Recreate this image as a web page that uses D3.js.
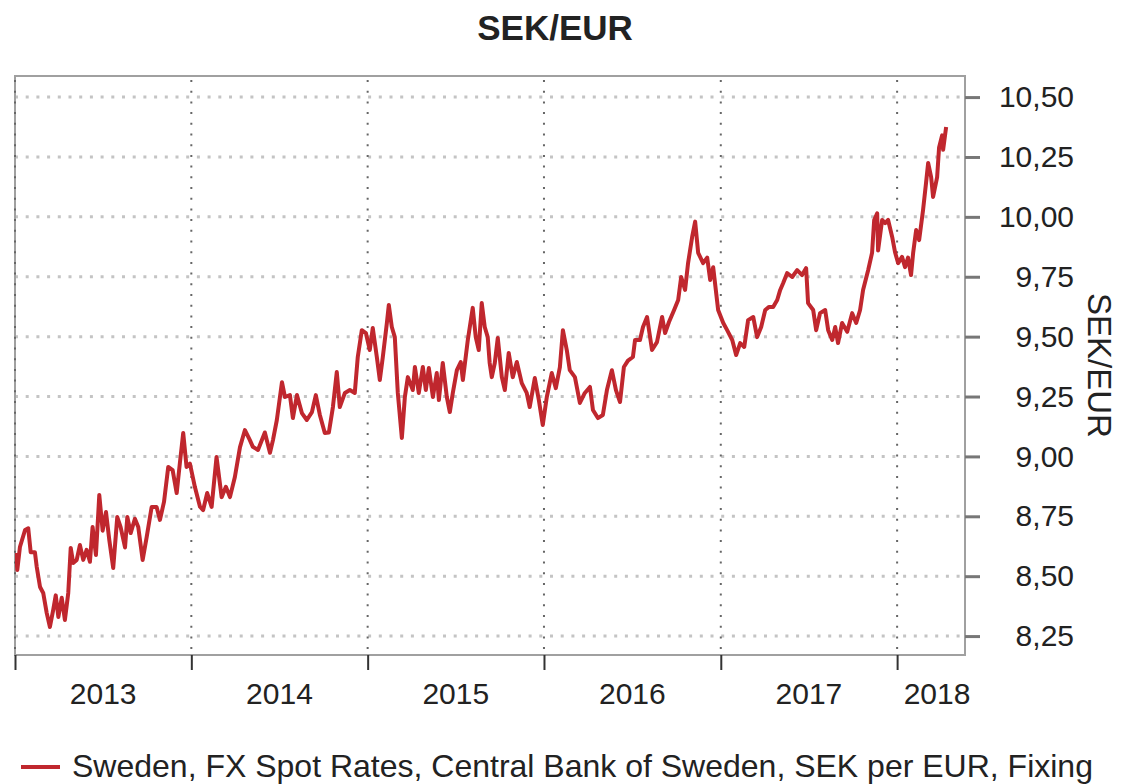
<!DOCTYPE html>
<html>
<head>
<meta charset="utf-8">
<title>SEK/EUR</title>
<script src="https://d3js.org/d3.v7.min.js"></script>
<style>
body { margin: 0; background: #fff; }
svg text { font-family: "Liberation Sans", Arial, Helvetica, sans-serif; fill: #222; }
.title { font-size: 35px; font-weight: bold; }
.tick-label { font-size: 30px; }
.axis-title { font-size: 33px; }
.legend-text { font-size: 32px; }
</style>
</head>
<body>
<svg id="chart" width="1124" height="784"></svg>
<script>

// decimal years
var times = [
  2013.006, 2013.013, 2013.028, 2013.057, 2013.075, 2013.089, 2013.113, 2013.123, 2013.142, 2013.160,
  2013.180, 2013.198, 2013.217, 2013.231, 2013.246, 2013.265, 2013.283, 2013.302, 2013.316, 2013.330,
  2013.350, 2013.368, 2013.387, 2013.406, 2013.425, 2013.440, 2013.459, 2013.478, 2013.497, 2013.516,
  2013.535, 2013.557, 2013.580, 2013.599, 2013.624, 2013.637, 2013.656, 2013.680, 2013.699, 2013.724,
  2013.747, 2013.775, 2013.803, 2013.822, 2013.845, 2013.869, 2013.894, 2013.917, 2013.935, 2013.954,
  2013.973, 2013.992, 2014.020, 2014.049, 2014.067, 2014.090, 2014.115, 2014.143, 2014.172, 2014.196,
  2014.219, 2014.247, 2014.276, 2014.304, 2014.332, 2014.349, 2014.378, 2014.417, 2014.446, 2014.463,
  2014.485, 2014.514, 2014.531, 2014.559, 2014.576, 2014.599, 2014.627, 2014.655, 2014.684, 2014.706,
  2014.729, 2014.757, 2014.780, 2014.803, 2014.825, 2014.842, 2014.871, 2014.899, 2014.927, 2014.944,
  2014.967, 2014.990, 2015.012, 2015.029, 2015.052, 2015.069, 2015.086, 2015.109, 2015.120, 2015.137,
  2015.154, 2015.171, 2015.194, 2015.211, 2015.228, 2015.256, 2015.268, 2015.290, 2015.313, 2015.330,
  2015.347, 2015.370, 2015.392, 2015.404, 2015.426, 2015.449, 2015.466, 2015.483, 2015.506, 2015.528,
  2015.540, 2015.568, 2015.596, 2015.613, 2015.630, 2015.647, 2015.664, 2015.681, 2015.692, 2015.704,
  2015.721, 2015.738, 2015.761, 2015.778, 2015.800, 2015.823, 2015.846, 2015.874, 2015.902, 2015.919,
  2015.948, 2015.971, 2015.993, 2016.016, 2016.044, 2016.067, 2016.090, 2016.107, 2016.129, 2016.146,
  2016.175, 2016.203, 2016.231, 2016.260, 2016.277, 2016.305, 2016.333, 2016.356, 2016.384, 2016.407,
  2016.430, 2016.452, 2016.475, 2016.503, 2016.515, 2016.543, 2016.560, 2016.583, 2016.611, 2016.639,
  2016.668, 2016.685, 2016.707, 2016.736, 2016.759, 2016.776, 2016.798, 2016.815, 2016.838, 2016.855,
  2016.872, 2016.900, 2016.923, 2016.940, 2016.957, 2016.985, 2017.014, 2017.036, 2017.065, 2017.087,
  2017.110, 2017.133, 2017.155, 2017.184, 2017.206, 2017.229, 2017.252, 2017.274, 2017.297, 2017.320,
  2017.337, 2017.354, 2017.376, 2017.405, 2017.433, 2017.461, 2017.484, 2017.495, 2017.524, 2017.541,
  2017.563, 2017.592, 2017.609, 2017.632, 2017.649, 2017.665, 2017.688, 2017.717, 2017.745, 2017.768,
  2017.790, 2017.807, 2017.836, 2017.858, 2017.870, 2017.887, 2017.892, 2017.915, 2017.932, 2017.949,
  2017.972, 2017.989, 2018.006, 2018.028, 2018.045, 2018.062, 2018.079, 2018.091, 2018.108, 2018.125,
  2018.147, 2018.164, 2018.176, 2018.193, 2018.204, 2018.227, 2018.238, 2018.255, 2018.261, 2018.278
];

// SEK per EUR
var rates = [
  8.597, 8.526, 8.622, 8.693, 8.700, 8.600, 8.600, 8.540, 8.455, 8.430,
  8.346, 8.288, 8.360, 8.420, 8.330, 8.410, 8.317, 8.430, 8.618, 8.555,
  8.568, 8.630, 8.568, 8.610, 8.560, 8.705, 8.588, 8.839, 8.690, 8.768,
  8.650, 8.534, 8.747, 8.705, 8.620, 8.747, 8.680, 8.740, 8.705, 8.568,
  8.664, 8.789, 8.789, 8.735, 8.810, 8.956, 8.943, 8.847, 8.972, 9.098,
  8.956, 8.970, 8.873, 8.790, 8.776, 8.847, 8.789, 8.998, 8.830, 8.873,
  8.830, 8.914, 9.039, 9.110, 9.068, 9.040, 9.027, 9.100, 9.015, 9.068,
  9.152, 9.310, 9.248, 9.256, 9.160, 9.256, 9.181, 9.152, 9.185, 9.256,
  9.173, 9.098, 9.100, 9.206, 9.352, 9.206, 9.265, 9.277, 9.265, 9.415,
  9.527, 9.515, 9.444, 9.536, 9.415, 9.319, 9.415, 9.557, 9.632, 9.540,
  9.498, 9.265, 9.077, 9.248, 9.331, 9.277, 9.373, 9.265, 9.373, 9.277,
  9.369, 9.248, 9.348, 9.235, 9.390, 9.248, 9.185, 9.265, 9.360, 9.394,
  9.319, 9.486, 9.620, 9.498, 9.444, 9.640, 9.540, 9.498, 9.390, 9.331,
  9.390, 9.494, 9.331, 9.277, 9.432, 9.331, 9.394, 9.306, 9.265, 9.206,
  9.327, 9.235, 9.131, 9.248, 9.348, 9.285, 9.373, 9.527, 9.444, 9.360,
  9.331, 9.223, 9.265, 9.290, 9.194, 9.160, 9.173, 9.277, 9.360, 9.277,
  9.227, 9.373, 9.400, 9.415, 9.486, 9.486, 9.540, 9.582, 9.444, 9.477,
  9.582, 9.515, 9.561, 9.611, 9.653, 9.749, 9.695, 9.807, 9.916, 9.980,
  9.850, 9.807, 9.830, 9.736, 9.790, 9.611, 9.557, 9.527, 9.486, 9.423,
  9.473, 9.457, 9.569, 9.582, 9.498, 9.540, 9.611, 9.624, 9.624, 9.653,
  9.695, 9.724, 9.765, 9.749, 9.778, 9.757, 9.786, 9.640, 9.611, 9.527,
  9.598, 9.611, 9.527, 9.486, 9.540, 9.473, 9.557, 9.520, 9.598, 9.557,
  9.611, 9.695, 9.778, 9.850, 9.987, 10.015, 9.860, 9.987, 9.974, 9.987,
  9.916, 9.850, 9.807, 9.833, 9.790, 9.830, 9.757, 9.850, 9.945, 9.903,
  10.028, 10.141, 10.225, 10.166, 10.083, 10.166, 10.290, 10.340, 10.280, 10.375
];

var yTicks = [8.25, 8.50, 8.75, 9.00, 9.25, 9.50, 9.75, 10.00, 10.25, 10.50];
var yearLabels = ["2013", "2014", "2015", "2016", "2017", "2018"];

var chartTitle = "SEK/EUR";
var axisTitle = "SEK/EUR";
var seriesName = "Sweden, FX Spot Rates, Central Bank of Sweden, SEK per EUR, Fixing";

function toDate(t) {
  var y = Math.floor(t);
  var a = Date.UTC(y, 0, 1), b = Date.UTC(y + 1, 0, 1);
  return new Date(a + (t - y) * (b - a));
}

var data = times.map(function(t, i) { return { date: toDate(t), value: rates[i] }; });

var svg = d3.select("#chart");

var plot = { left: 15, right: 965, top: 76, bottom: 655 };

var x = d3.scaleUtc()
    .domain([new Date(Date.UTC(2013, 0, 1)), toDate(2018.385)])
    .range([plot.left, plot.right]);

var y = d3.scaleLinear()
    .domain([8.171, 10.588])
    .range([plot.bottom, plot.top]);

var yearStarts = yearLabels.map(function(s) { return new Date(Date.UTC(+s, 0, 1)); });

var fmt = function(d) { return d3.format(".2f")(d).replace(".", ","); };

// title
svg.append("text")
    .attr("class", "title")
    .attr("x", 555)
    .attr("y", 40)
    .attr("text-anchor", "middle")
    .text(chartTitle);

// horizontal grid
svg.append("g")
  .selectAll("line")
  .data(yTicks)
  .enter().append("line")
    .attr("x1", plot.left)
    .attr("x2", plot.right)
    .attr("y1", function(d) { return y(d); })
    .attr("y2", function(d) { return y(d); })
    .style("stroke", "#c4c4c4")
    .style("stroke-width", 3)
    .style("stroke-dasharray", "3,7.7");

// frame
svg.append("rect")
    .attr("x", plot.left)
    .attr("y", plot.top)
    .attr("width", plot.right - plot.left)
    .attr("height", plot.bottom - plot.top)
    .style("fill", "none")
    .style("stroke", "#a0a0a0")
    .style("stroke-width", 2);

// vertical grid
svg.append("g")
  .selectAll("line")
  .data(yearStarts)
  .enter().append("line")
    .attr("x1", function(d) { return x(d); })
    .attr("x2", function(d) { return x(d); })
    .attr("y1", plot.top + 4)
    .attr("y2", plot.bottom)
    .style("stroke", "#666")
    .style("stroke-width", 2)
    .style("stroke-dasharray", "2,8.7");

// right axis
var yAxis = d3.axisRight(y)
    .tickValues(yTicks)
    .tickSize(15)
    .tickPadding(94)
    .tickFormat(fmt);

var gy = svg.append("g")
    .attr("transform", "translate(" + plot.right + ",0)")
    .call(yAxis);
gy.select(".domain").remove();
gy.selectAll(".tick line").style("stroke", "#777").style("stroke-width", 3);
gy.selectAll(".tick text")
    .attr("class", "tick-label")
    .attr("text-anchor", "end")
    .attr("font-family", null)
    .attr("font-size", null)
    .style("fill", "#222");

svg.append("text")
    .attr("class", "axis-title")
    .attr("transform", "translate(1088," + ((plot.top + plot.bottom) / 2) + ") rotate(90)")
    .attr("text-anchor", "middle")
    .text(axisTitle);

// bottom axis: ticks at year starts, labels in the middle of each year
var xAxis = d3.axisBottom(x)
    .tickValues(yearStarts)
    .tickSize(15)
    .tickFormat("");

var gx = svg.append("g")
    .attr("transform", "translate(0," + plot.bottom + ")")
    .call(xAxis);
gx.select(".domain").remove();
gx.selectAll(".tick line").style("stroke", "#333").style("stroke-width", 2);

svg.append("g")
  .selectAll("text")
  .data(yearStarts)
  .enter().append("text")
    .attr("class", "tick-label")
    .attr("x", function(d, i) {
      var end = Math.min(x(d3.utcYear.offset(d, 1)), plot.right);
      return (x(d) + end) / 2 + (i === yearStarts.length - 1 ? 6 : 0);
    })
    .attr("y", 704)
    .attr("text-anchor", "middle")
    .text(function(d, i) { return yearLabels[i]; });

// series
svg.append("clipPath")
    .attr("id", "clip")
  .append("rect")
    .attr("x", plot.left)
    .attr("y", plot.top)
    .attr("width", plot.right - plot.left)
    .attr("height", plot.bottom - plot.top);

var line = d3.line()
    .x(function(d) { return x(d.date); })
    .y(function(d) { return y(d.value); });

svg.append("path")
    .datum(data)
    .attr("clip-path", "url(#clip)")
    .attr("d", line)
    .style("fill", "none")
    .style("stroke", "#c0272e")
    .style("stroke-width", 4)
    .style("stroke-linejoin", "round");

// legend
svg.append("line")
    .attr("x1", 21)
    .attr("x2", 60)
    .attr("y1", 767)
    .attr("y2", 767)
    .style("stroke", "#c0272e")
    .style("stroke-width", 4);

svg.append("text")
    .attr("class", "legend-text")
    .attr("x", 72)
    .attr("y", 777)
    .text(seriesName);

</script>
</body>
</html>
